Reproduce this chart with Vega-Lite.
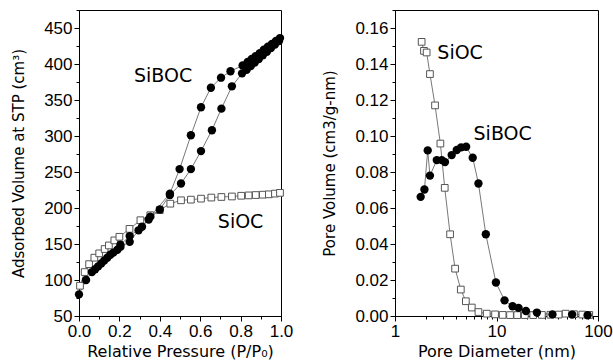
{
  "$schema": "https://vega.github.io/schema/vega-lite/v6.json",
  "padding": {"left": 11, "top": 9, "right": 0, "bottom": 0},
  "background": "white",
  "spacing": 28,
  "datasets": {
    "iso_sioc": [
      {"P": 0.005, "V": 92}, {"P": 0.028, "V": 111}, {"P": 0.05, "V": 122}, {"P": 0.076, "V": 131},
      {"P": 0.1, "V": 137}, {"P": 0.127, "V": 143}, {"P": 0.148, "V": 148}, {"P": 0.175, "V": 155},
      {"P": 0.2, "V": 160}, {"P": 0.25, "V": 171}, {"P": 0.304, "V": 183}, {"P": 0.353, "V": 190},
      {"P": 0.4, "V": 197}, {"P": 0.452, "V": 206}, {"P": 0.505, "V": 210.7}, {"P": 0.554, "V": 211.6},
      {"P": 0.604, "V": 213}, {"P": 0.655, "V": 214.5}, {"P": 0.705, "V": 215.3}, {"P": 0.757, "V": 216},
      {"P": 0.803, "V": 217}, {"P": 0.84, "V": 217.5}, {"P": 0.875, "V": 218}, {"P": 0.91, "V": 218.5},
      {"P": 0.94, "V": 219}, {"P": 0.97, "V": 220}, {"P": 0.995, "V": 221}
    ],
    "iso_siboc": [
      {"P": 0.0, "V": 80, "branch": "ads"}, {"P": 0.035, "V": 100, "branch": "ads"}, {"P": 0.064, "V": 111, "branch": "ads"},
      {"P": 0.08, "V": 115, "branch": "ads"}, {"P": 0.095, "V": 119, "branch": "ads"}, {"P": 0.11, "V": 123, "branch": "ads"},
      {"P": 0.125, "V": 127, "branch": "ads"}, {"P": 0.14, "V": 131, "branch": "ads"}, {"P": 0.155, "V": 135, "branch": "ads"},
      {"P": 0.17, "V": 138, "branch": "ads"}, {"P": 0.19, "V": 142, "branch": "ads"}, {"P": 0.205, "V": 146, "branch": "ads"},
      {"P": 0.251, "V": 153, "branch": "ads"}, {"P": 0.295, "V": 169, "branch": "ads"}, {"P": 0.345, "V": 184, "branch": "ads"},
      {"P": 0.4, "V": 198, "branch": "ads"}, {"P": 0.45, "V": 218, "branch": "ads"}, {"P": 0.505, "V": 234, "branch": "ads"},
      {"P": 0.554, "V": 254, "branch": "ads"}, {"P": 0.604, "V": 279, "branch": "ads"}, {"P": 0.658, "V": 308, "branch": "ads"},
      {"P": 0.705, "V": 338, "branch": "ads"}, {"P": 0.757, "V": 369, "branch": "ads"}, {"P": 0.807, "V": 387, "branch": "ads"},
      {"P": 0.83, "V": 392, "branch": "ads"}, {"P": 0.85, "V": 397, "branch": "ads"}, {"P": 0.87, "V": 402, "branch": "ads"},
      {"P": 0.89, "V": 407, "branch": "ads"}, {"P": 0.91, "V": 412, "branch": "ads"}, {"P": 0.93, "V": 417, "branch": "ads"},
      {"P": 0.95, "V": 422, "branch": "ads"}, {"P": 0.97, "V": 427, "branch": "ads"}, {"P": 0.99, "V": 432, "branch": "ads"},
      {"P": 0.995, "V": 436, "branch": "des"}, {"P": 0.975, "V": 432, "branch": "des"}, {"P": 0.955, "V": 428, "branch": "des"},
      {"P": 0.935, "V": 424, "branch": "des"}, {"P": 0.915, "V": 420, "branch": "des"}, {"P": 0.895, "V": 415, "branch": "des"},
      {"P": 0.875, "V": 411, "branch": "des"}, {"P": 0.855, "V": 407, "branch": "des"}, {"P": 0.835, "V": 403, "branch": "des"},
      {"P": 0.81, "V": 398, "branch": "des"}, {"P": 0.75, "V": 390, "branch": "des"}, {"P": 0.703, "V": 381, "branch": "des"},
      {"P": 0.653, "V": 367, "branch": "des"}, {"P": 0.604, "V": 340, "branch": "des"}, {"P": 0.554, "V": 301, "branch": "des"},
      {"P": 0.498, "V": 254, "branch": "des"}, {"P": 0.45, "V": 220, "branch": "des"}, {"P": 0.353, "V": 188, "branch": "des"},
      {"P": 0.312, "V": 174, "branch": "des"}, {"P": 0.251, "V": 161, "branch": "des"}, {"P": 0.205, "V": 149, "branch": "des"}
    ],
    "psd_sioc": [
      {"D": 1.83, "V": 0.1523}, {"D": 1.93, "V": 0.1473}, {"D": 2.05, "V": 0.1464}, {"D": 2.21, "V": 0.1344},
      {"D": 2.48, "V": 0.117}, {"D": 2.8, "V": 0.0958}, {"D": 3.09, "V": 0.0712}, {"D": 3.49, "V": 0.0454},
      {"D": 3.91, "V": 0.0263}, {"D": 4.45, "V": 0.0147}, {"D": 4.99, "V": 0.0082}, {"D": 5.71, "V": 0.0047},
      {"D": 6.64, "V": 0.0022}, {"D": 8.02, "V": 0.0013}, {"D": 9.68, "V": 0.0009}, {"D": 11.5, "V": 0.0006},
      {"D": 13.6, "V": 0.0005}, {"D": 16, "V": 0.0005}, {"D": 19, "V": 0.0005}, {"D": 23, "V": 0.0005},
      {"D": 28, "V": 0.0006}, {"D": 34, "V": 0.0007}, {"D": 41, "V": 0.0008}, {"D": 48, "V": 0.0013},
      {"D": 58, "V": 0.001}, {"D": 70, "V": 0.0008}, {"D": 82, "V": 0.0006}
    ],
    "psd_siboc": [
      {"D": 1.79, "V": 0.0662}, {"D": 1.95, "V": 0.0703}, {"D": 2.1, "V": 0.092}, {"D": 2.21, "V": 0.078},
      {"D": 2.58, "V": 0.0866}, {"D": 2.89, "V": 0.0866}, {"D": 3.11, "V": 0.0855}, {"D": 3.62, "V": 0.0894},
      {"D": 4.06, "V": 0.0922}, {"D": 4.48, "V": 0.0937}, {"D": 5.02, "V": 0.094}, {"D": 5.83, "V": 0.0879},
      {"D": 6.64, "V": 0.0736}, {"D": 7.85, "V": 0.0454}, {"D": 9.87, "V": 0.0186}, {"D": 12.0, "V": 0.0087},
      {"D": 14.4, "V": 0.0054}, {"D": 16.5, "V": 0.0045}, {"D": 19.5, "V": 0.0028}, {"D": 25.0, "V": 0.0019},
      {"D": 35.6, "V": 0.0009}, {"D": 55.6, "V": 0.0008}, {"D": 79, "V": 0.0004}
    ],
    "iso_labels": [
      {"P": 0.416, "V": 384, "label": "SiBOC"},
      {"P": 0.8, "V": 181, "label": "SiOC"}
    ],
    "psd_labels": [
      {"D": 4.38, "V": 0.1459, "label": "SiOC"},
      {"D": 11.5, "V": 0.1009, "label": "SiBOC"}
    ]
  },
  "hconcat": [
    {
      "width": 202,
      "height": 306,
      "layer": [
        {
          "data": {"name": "iso_sioc"},
          "mark": {"type": "line", "color": "#555", "strokeWidth": 0.8},
          "encoding": {
            "x": {"field": "P", "type": "quantitative", "scale": {"domain": [0, 1], "nice": false},
                  "axis": {"values": [0, 0.2, 0.4, 0.6, 0.8, 1.0], "format": ".1f", "title": "Relative Pressure (P/P₀)", "orient": "bottom", "titleFontSize": 16}},
            "y": {"field": "V", "type": "quantitative", "scale": {"domain": [50, 475], "nice": false, "zero": false},
                  "axis": {"values": [50, 100, 150, 200, 250, 300, 350, 400, 450], "title": "Adsorbed Volume at STP (cm³)", "orient": "left", "titleFontSize": 15, "titlePadding": 17}}
          }
        },
        {
          "data": {"name": "iso_siboc"},
          "mark": {"type": "line", "color": "#555", "strokeWidth": 0.8},
          "encoding": {
            "x": {"field": "P", "type": "quantitative", "axis": null},
            "y": {"field": "V", "type": "quantitative", "axis": null},
            "detail": {"field": "branch"}
          }
        },
        {
          "data": {"name": "iso_sioc"},
          "mark": {"type": "point", "shape": "square", "filled": true, "fill": "white", "stroke": "#555", "strokeWidth": 1, "size": 45, "opacity": 1},
          "encoding": {
            "x": {"field": "P", "type": "quantitative",
                  "axis": {"values": [0, 0.1, 0.2, 0.3, 0.4, 0.5, 0.6, 0.7, 0.8, 0.9, 1.0], "labels": false, "domain": false, "tickSize": 3, "title": null, "orient": "bottom"}},
            "y": {"field": "V", "type": "quantitative",
                  "axis": {"values": [50, 75, 100, 125, 150, 175, 200, 225, 250, 275, 300, 325, 350, 375, 400, 425, 450, 475], "labels": false, "domain": false, "tickSize": 3, "title": null, "orient": "left"}}
          }
        },
        {
          "data": {"name": "iso_siboc"},
          "mark": {"type": "point", "shape": "circle", "filled": true, "color": "black", "size": 70, "opacity": 1},
          "encoding": {
            "x": {"field": "P", "type": "quantitative", "axis": null},
            "y": {"field": "V", "type": "quantitative", "axis": null}
          }
        },
        {
          "data": {"name": "iso_labels"},
          "mark": {"type": "text", "font": "DejaVu Sans", "fontSize": 19, "color": "black", "align": "center", "baseline": "middle"},
          "encoding": {
            "x": {"field": "P", "type": "quantitative", "axis": null},
            "y": {"field": "V", "type": "quantitative", "axis": null},
            "text": {"field": "label"}
          }
        }
      ],
      "resolve": {"axis": {"x": "independent", "y": "independent"}}
    },
    {
      "width": 203,
      "height": 306,
      "layer": [
        {
          "data": {"name": "psd_sioc"},
          "mark": {"type": "line", "color": "#555", "strokeWidth": 0.8},
          "encoding": {
            "x": {"field": "D", "type": "quantitative", "scale": {"type": "log", "domain": [1, 100], "nice": false},
                  "axis": {"values": [1, 10, 100], "format": "d", "title": "Pore Diameter (nm)", "orient": "bottom", "titleFontSize": 16}},
            "y": {"field": "V", "type": "quantitative", "scale": {"domain": [0, 0.17], "nice": false},
                  "axis": {"values": [0, 0.02, 0.04, 0.06, 0.08, 0.1, 0.12, 0.14, 0.16], "format": ".2f", "title": "Pore Volume (cm3/g-nm)", "orient": "left", "titleFontSize": 15, "titlePadding": 17}}
          }
        },
        {
          "data": {"name": "psd_siboc"},
          "mark": {"type": "line", "color": "#555", "strokeWidth": 0.8},
          "encoding": {
            "x": {"field": "D", "type": "quantitative", "axis": null},
            "y": {"field": "V", "type": "quantitative", "axis": null}
          }
        },
        {
          "data": {"name": "psd_sioc"},
          "mark": {"type": "point", "shape": "square", "filled": true, "fill": "white", "stroke": "#555", "strokeWidth": 1, "size": 45, "opacity": 1},
          "encoding": {
            "x": {"field": "D", "type": "quantitative",
                  "axis": {"values": [2, 3, 4, 5, 6, 7, 8, 9, 20, 30, 40, 50, 60, 70, 80, 90], "labels": false, "domain": false, "tickSize": 3, "title": null, "orient": "bottom"}},
            "y": {"field": "V", "type": "quantitative",
                  "axis": {"values": [0.01, 0.03, 0.05, 0.07, 0.09, 0.11, 0.13, 0.15, 0.17], "labels": false, "domain": false, "tickSize": 3, "title": null, "orient": "left"}}
          }
        },
        {
          "data": {"name": "psd_siboc"},
          "mark": {"type": "point", "shape": "circle", "filled": true, "color": "black", "size": 70, "opacity": 1},
          "encoding": {
            "x": {"field": "D", "type": "quantitative", "axis": null},
            "y": {"field": "V", "type": "quantitative", "axis": null}
          }
        },
        {
          "data": {"name": "psd_labels"},
          "mark": {"type": "text", "font": "DejaVu Sans", "fontSize": 19, "color": "black", "align": "center", "baseline": "middle"},
          "encoding": {
            "x": {"field": "D", "type": "quantitative", "axis": null},
            "y": {"field": "V", "type": "quantitative", "axis": null},
            "text": {"field": "label"}
          }
        }
      ],
      "resolve": {"axis": {"x": "independent", "y": "independent"}}
    }
  ],
  "config": {
    "view": {"stroke": "black", "strokeWidth": 1},
    "axis": {
      "grid": false,
      "domainColor": "black",
      "tickColor": "black",
      "tickSize": 5,
      "labelFont": "Liberation Sans",
      "labelFontSize": 17,
      "labelColor": "black",
      "labelPadding": 2,
      "labelOverlap": false,
      "labelFlush": false,
      "titleFont": "DejaVu Sans",
      "titleFontSize": 14,
      "titleFontWeight": "normal",
      "titleColor": "black"
    }
  }
}
